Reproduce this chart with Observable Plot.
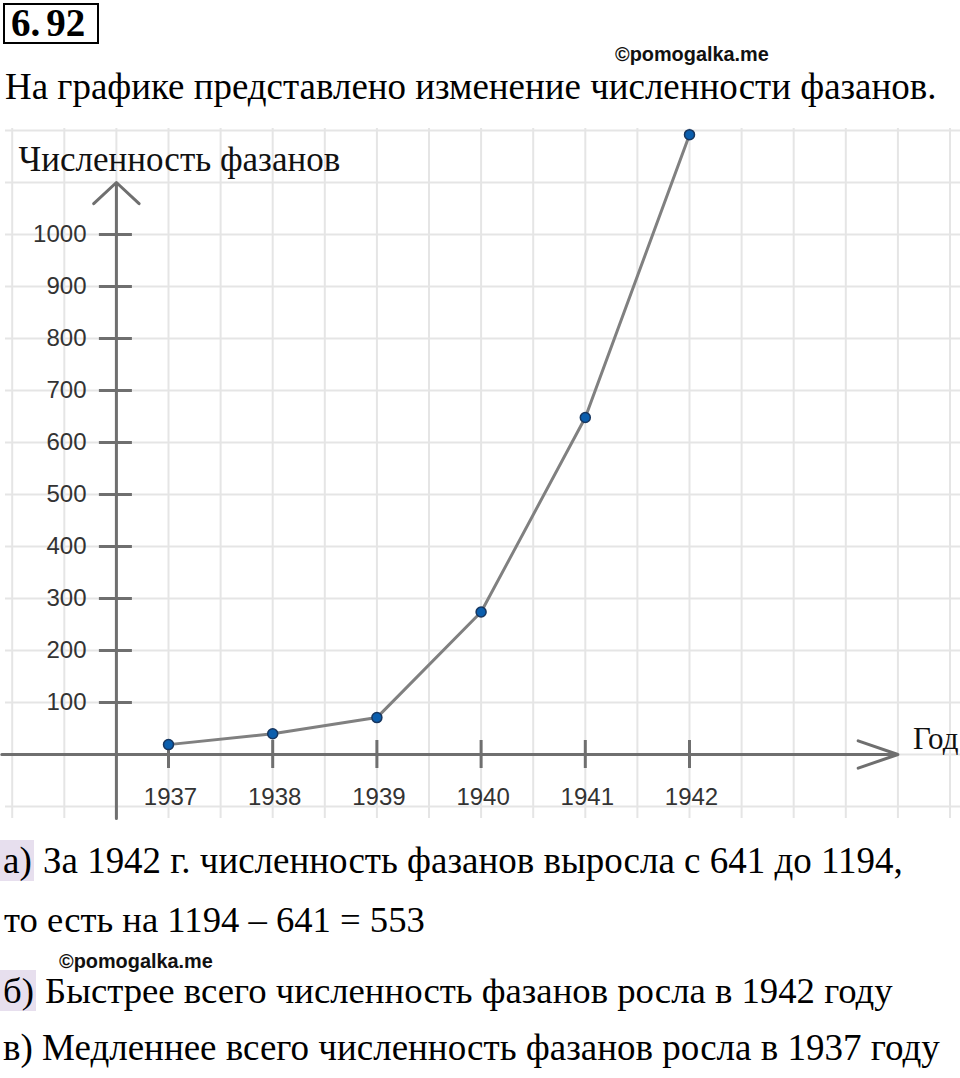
<!DOCTYPE html>
<html><head><meta charset="utf-8">
<script src="https://cdn.jsdelivr.net/npm/d3@7"></script>
<script src="https://cdn.jsdelivr.net/npm/@observablehq/plot@0.6"></script>
<style>
html,body{margin:0;padding:0;background:#fff;}
body{width:960px;height:1078px;overflow:hidden;}
#head,#foot{position:relative;width:960px;}
#head{height:118px;}
#foot{height:248px;}
#chart svg{display:block;}
.t{position:absolute;white-space:nowrap;line-height:1;margin:0;}
.serif{font-family:"Liberation Serif","Times New Roman",Tinos,serif;color:#000;}
.sans{font-family:"Liberation Sans",Arial,sans-serif;font-weight:bold;color:#111;}
.hl{background:#e7dfee;padding:0 2px 0 3px;}
.box{position:absolute;left:3px;top:3px;width:92px;height:37px;border:2px solid #000;}
</style></head><body>
<div id="head"></div>
<div id="chart"></div>
<div id="foot"></div>
<script>
// ---- data ----
const years = [1937, 1938, 1939, 1940, 1941, 1942];
const pheasants = [19, 40, 71, 274, 648, 1192];
const yTicks = [100, 200, 300, 400, 500, 600, 700, 800, 900, 1000];
const yearLabels = ["1937", "1938", "1939", "1940", "1941", "1942"];
const problemNumber = ["6.", "92"];
const watermark = "©pomogalka.me";
const subtitle = "На графике представлено изменение численности фазанов.";
const yLabel = "Численность фазанов";
const xLabel = "Год";
const answerA = ["а)", " За 1942 г. численность фазанов выросла с 641 до 1194,"];
const answerA2 = "то есть на 1194 – 641 = 553";
const answerB = ["б)", " Быстрее всего численность фазанов росла в 1942 году"];
const answerC = "в) Медленнее всего численность фазанов росла в 1937 году";

// axis furniture extents (in data units)
const yAxisYear = 1936.5;
const xAxisFrom = 1935.4, xAxisTo = 1944;
const yAxisFrom = -123, yAxisTo = 1100;
const gridXValues = d3.range(1935.5, 1944.51, 0.5);
const gridYValues = d3.range(-100, 1201, 100);

const data = years.map((year, i) => ({year, count: pheasants[i]}));

const serifFamily = '"Liberation Serif", "Times New Roman", Tinos, serif';

// ---- header / footer text helpers ----
function place(parent, html, left, baseline, size, cls, fitWidth) {
  const k = cls === "serif" ? 0.8375 : 0.8465;
  const el = document.createElement("div");
  el.className = "t " + cls;
  el.style.left = left + "px";
  el.innerHTML = html;
  parent.appendChild(el);
  let s = size;
  el.style.fontSize = s + "px";
  if (fitWidth) {
    const w = el.getBoundingClientRect().width;
    if (w > 0) {
      const f = Math.max(0.9, Math.min(1.1, fitWidth / w));
      s = size * f;
      el.style.fontSize = s + "px";
    }
  }
  el.style.top = (baseline - k * s) + "px";
  return el;
}
const head = document.getElementById("head");
const box = document.createElement("div");
box.className = "box";
head.appendChild(box);
const num = place(head, `<span>${problemNumber[0]}</span><span style="margin-left:6px">${problemNumber[1]}</span>`, 11, 36, 39, "serif");
num.style.fontWeight = "bold";
place(head, watermark, 615, 62, 20, "sans", 154);
place(head, subtitle, 5, 100, 37, "serif", 932);

const foot = document.getElementById("foot");
place(foot, `<span class="hl">${answerA[0]}</span>${answerA[1]}`, 0, 43, 37, "serif", 903);
place(foot, answerA2, 4, 103, 37, "serif", 421);
place(foot, watermark, 59, 139, 20, "sans", 154);
place(foot, `<span class="hl">${answerB[0]}</span>${answerB[1]}`, 0, 174, 37, "serif", 893);
place(foot, answerC, 3, 230, 37, "serif", 937);

// ---- chart ----
const axisColor = "#6f6f6f";
const gridColor = "#e5e5e5";
const chart = Plot.plot({
  width: 960,
  height: 712,
  marginLeft: 5, marginRight: 0, marginTop: 10, marginBottom: 12,
  x: {domain: [1937, 1942], range: [168, 689]},
  y: {domain: [0, 1000], range: [636, 116]},
  style: {background: "#fff", overflow: "visible"},
  marks: [
    Plot.gridX(gridXValues, {stroke: gridColor, strokeOpacity: 1, strokeWidth: 2}),
    Plot.gridY(gridYValues, {stroke: gridColor, strokeOpacity: 1, strokeWidth: 2}),
    Plot.arrow([0], {x1: xAxisFrom, x2: xAxisTo, y1: 0, y2: 0, stroke: axisColor, strokeWidth: 3, headLength: 21, headAngle: 38}),
    Plot.arrow([0], {x1: yAxisYear, x2: yAxisYear, y1: yAxisFrom, y2: yAxisTo, stroke: axisColor, strokeWidth: 3, headLength: 15.5, headAngle: 94}),
    Plot.ruleY(yTicks, {y: d => d, x1: yAxisYear, x2: yAxisYear, insetLeft: -17, insetRight: -16, stroke: axisColor, strokeWidth: 3}),
    Plot.ruleX(years, {x: d => d, y1: 0, y2: 0, insetTop: -14, insetBottom: -14, stroke: axisColor, strokeWidth: 3}),
    Plot.axisY(yTicks, {anchor: "left", tickSize: 0, tickPadding: 0, dx: 81, label: null,
      tickFormat: d => String(d), fontSize: 24, fontFamily: "Liberation Sans, Arial, sans-serif", fill: "#333"}),
    Plot.axisX(years, {anchor: "bottom", tickSize: 0, tickPadding: 0, dy: -31, dx: 2, label: null,
      tickFormat: d => yearLabels[years.indexOf(d)], fontSize: 24, fontFamily: "Liberation Sans, Arial, sans-serif", fill: "#333"}),
    Plot.line(data, {x: "year", y: "count", stroke: "#808080", strokeWidth: 3}),
    Plot.dot(data, {x: "year", y: "count", r: 5, fill: "#0b5ead", stroke: "#17365f", strokeWidth: 1.5}),
    Plot.text([yLabel], {frameAnchor: "top-left", dx: 13, dy: 42, lineAnchor: "bottom", textAnchor: "start",
      fontSize: 35, fontFamily: serifFamily, fill: "#111"}),
    Plot.text([xLabel], {x: xAxisTo, y: 0, dx: 15, dy: -6, lineAnchor: "bottom", textAnchor: "start",
      fontSize: 31, fontFamily: serifFamily, fill: "#111"})
  ]
});
document.getElementById("chart").appendChild(chart);
</script>
</body></html>
